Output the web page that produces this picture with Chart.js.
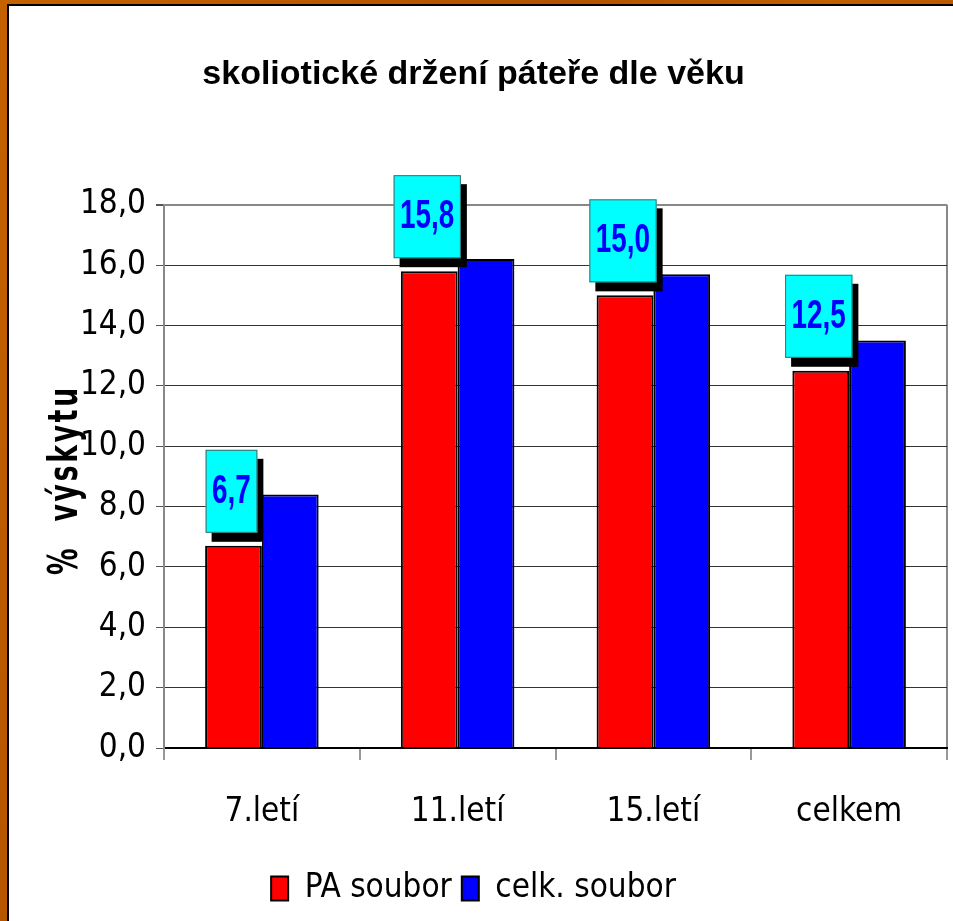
<!DOCTYPE html>
<html>
<head>
<meta charset="utf-8">
<script src="https://cdn.jsdelivr.net/npm/chart.js@4/dist/chart.umd.min.js"></script>
<style>
    html, body { margin: 0; padding: 0; }
    body {
        width: 953px; height: 921px; overflow: hidden; position: relative;
        background: linear-gradient(115deg, #c46200 0%, #b35200 40%, #c06000 60%, #a84400 100%);
    }
    #frame {
        position: absolute; left: 7px; top: 4px; right: 0; bottom: 0;
        background: #fff; border-left: 2px solid #000; border-top: 2px solid #000;
    }
    #chart { position: absolute; left: 0; top: 0; }
</style>
</head>
<body>
<div id="frame"></div>
<canvas id="chart" width="953" height="921"></canvas>
<script>
const categories = ['7.letí', '11.letí', '15.letí', 'celkem'];
const paValues = [6.7, 15.8, 15.0, 12.5];
const celkValues = [8.4, 16.2, 15.7, 13.5];
const seriesNames = ['PA soubor', 'celk. soubor'];
const yMin = 0, yMax = 18, yStep = 2;
const chartTitle = 'skoliotické držení páteře dle věku';
const yTitle = '%  výskytu';

const NARROW = '"Liberation Sans Narrow", "Arial Narrow", "DejaVu Sans Condensed", sans-serif';

function czNum(v) {
    return Number(v).toFixed(1).replace('.', ',');
}

// cyan value boxes with black drop shadow above the red bars
const valueBoxes = {
    id: 'valueBoxes',
    afterDatasetsDraw(chart) {
        const ctx = chart.ctx;
        const meta = chart.getDatasetMeta(0);
        const sx = 0.82, sy = 1.22;
        ctx.save();
        ctx.font = 'bold 34px "Liberation Sans", Arial, sans-serif';
        meta.data.forEach((bar, i) => {
            const text = czNum(paValues[i]);
            const w = ctx.measureText(text).width * sx + 13;
            const h = 83;
            const cx = bar.x - 2;
            const bottom = bar.y - 13;
            const left = cx - w / 2, top = bottom - h;
            ctx.fillStyle = '#000';
            ctx.fillRect(left + 6, top + 9, w, h);
            ctx.fillStyle = '#00ffff';
            ctx.fillRect(left, top, w, h);
            ctx.strokeStyle = '#3f6f6f';
            ctx.lineWidth = 1;
            ctx.strokeRect(left + 0.5, top + 0.5, w - 1, h - 1);
            ctx.save();
            ctx.translate(cx, top + 53);
            ctx.scale(sx, sy);
            ctx.fillStyle = '#0000ff';
            ctx.textAlign = 'center';
            ctx.textBaseline = 'alphabetic';
            ctx.fillText(text, 0, 0);
            ctx.restore();
        });
        ctx.restore();
    }
};

// rotated, letter-spaced y axis title
const yAxisTitle = {
    id: 'yAxisTitle',
    afterDraw(chart) {
        const ctx = chart.ctx;
        ctx.save();
        ctx.font = 'bold 32px ' + NARROW;
        ctx.letterSpacing = '3px';
        const len = ctx.measureText(yTitle).width;
        ctx.translate(77, 480);
        ctx.rotate(-Math.PI / 2);
        ctx.scale(190 / len, 1.3);
        ctx.fillStyle = '#000';
        ctx.textAlign = 'center';
        ctx.textBaseline = 'alphabetic';
        ctx.fillText(yTitle, 0, 0);
        ctx.restore();
    }
};

const ctx = document.getElementById('chart').getContext('2d');
const chart = new Chart(ctx, {
    type: 'bar',
    data: {
        labels: categories,
        datasets: [
            {
                label: seriesNames[0],
                data: paValues,
                backgroundColor: '#ff0000',
                borderColor: '#000',
                borderWidth: 2,
                categoryPercentage: 0.58,
                barPercentage: 1
            },
            {
                label: seriesNames[1],
                data: celkValues,
                backgroundColor: '#0000ff',
                borderColor: '#000',
                borderWidth: 2,
                categoryPercentage: 0.58,
                barPercentage: 1
            }
        ]
    },
    options: {
        responsive: false,
        animation: false,
        devicePixelRatio: 1,
        layout: { padding: { left: 0, right: 6, top: 0, bottom: 6 } },
        plugins: {
            title: {
                display: true,
                text: chartTitle,
                color: '#000',
                font: { family: '"Liberation Sans", Arial, sans-serif', size: 34, weight: 'bold' },
                padding: { top: 54, bottom: 110 }
            },
            legend: {
                position: 'bottom',
                labels: {
                    color: '#000',
                    font: { family: NARROW, size: 33 },
                    boxWidth: 17,
                    boxHeight: 24,
                    padding: 10
                }
            },
            tooltip: { enabled: false }
        },
        scales: {
            x: {
                afterFit: s => { s.height = 114; },
                grid: {
                    offset: true,
                    drawOnChartArea: true,
                    color: c => (c.index === undefined ? '#888' : 'rgba(0,0,0,0)'),
                    lineWidth: 2,
                    tickColor: '#333',
                    tickWidth: 1,
                    tickLength: 12
                },
                border: { display: true, color: '#000', width: 2 },
                ticks: {
                    color: '#000',
                    font: { family: NARROW, size: 33 },
                    padding: 33
                }
            },
            y: {
                min: yMin,
                max: yMax,
                afterFit: s => { s.width = 164; },
                grid: {
                    color: c => (c.tick && c.tick.value === yMax ? '#888' : '#333'),
                    lineWidth: c => (c.tick && c.tick.value === yMax ? 2 : 1),
                    tickColor: '#555',
                    tickLength: 8
                },
                border: { display: true, color: '#888', width: 2 },
                ticks: {
                    stepSize: yStep,
                    color: '#000',
                    font: { family: NARROW, size: 33 },
                    padding: 10,
                    callback: v => czNum(v)
                }
            }
        }
    },
    plugins: [valueBoxes, yAxisTitle]
});
</script>
</body>
</html>
